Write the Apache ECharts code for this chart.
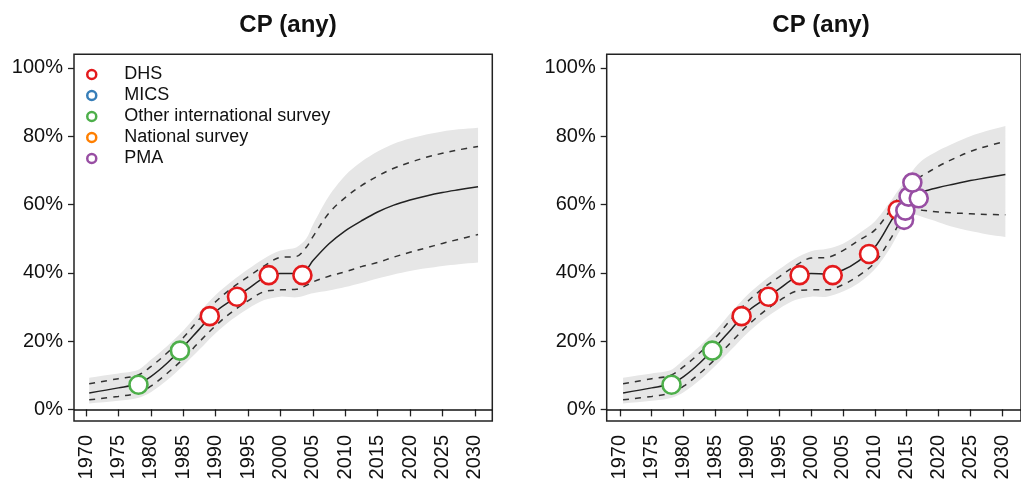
<!DOCTYPE html>
<html>
<head>
<meta charset="utf-8">
<script src="https://cdn.jsdelivr.net/npm/echarts@6/dist/echarts.min.js"></script>
<style>
  html, body { margin: 0; padding: 0; background: #fff; }
  #chart { width: 1021px; height: 484px; }
</style>
</head>
<body>
<div id="chart"></div>
<script>
// Axis ticks
const tickYears = [1970, 1975, 1980, 1985, 1990, 1995, 2000, 2005, 2010, 2015, 2020, 2025, 2030];
const tickPercents = [0, 20, 40, 60, 80, 100];

// Data sources (legend order)
const sourceNames = ['DHS', 'MICS', 'Other international survey', 'National survey', 'PMA'];
const sourceColors = ['#e41a1c', '#377eb8', '#4daf4a', '#ff7f00', '#984ea3'];

// Left panel: estimates (%)
const yearsLeft   = [1970.5, 1975, 1978, 1980, 1982.5, 1985, 1987.5, 1990, 1992.5, 1995, 1997.5, 2000, 2002.5, 2004, 2005, 2007.5, 2010, 2012.5, 2015, 2017.5, 2020, 2022.5, 2025, 2027.5, 2030.5];
const medianLeft  = [4.8, 6.3, 7.5, 9.6, 13.5, 18.3, 23.5, 28.6, 32.0, 35.3, 38.5, 39.8, 39.8, 41.0, 43.5, 48.5, 52.3, 55.2, 57.8, 59.8, 61.3, 62.5, 63.5, 64.3, 65.2];
const upper80Left = [7.5, 9.0, 10.0, 12.5, 16.5, 21.0, 26.5, 31.5, 35.5, 38.8, 42.0, 44.5, 44.8, 47.5, 50.5, 57.5, 62.0, 65.5, 68.3, 70.6, 72.3, 73.8, 75.0, 76.0, 77.0];
const lower80Left = [2.8, 3.8, 4.8, 6.8, 10.5, 14.8, 19.8, 24.5, 28.5, 31.8, 34.5, 35.0, 35.2, 36.3, 37.3, 39.0, 40.3, 41.8, 43.0, 44.6, 46.0, 47.3, 48.6, 49.8, 51.2];
const upper95Left = [9.3, 10.5, 11.5, 14.5, 18.5, 23.0, 28.5, 33.5, 37.5, 41.0, 44.2, 46.5, 47.5, 50.0, 54.0, 62.5, 68.5, 72.5, 75.5, 77.8, 79.3, 80.5, 81.4, 82.0, 82.5];
const lower95Left = [1.7, 2.5, 3.3, 5.0, 8.5, 12.8, 17.5, 22.3, 26.3, 29.5, 32.0, 33.0, 32.8, 33.5, 34.0, 34.8, 35.8, 37.0, 38.3, 39.5, 40.5, 41.3, 42.0, 42.5, 43.0];

// Left panel: observations
const dhsYearsLeft    = [1989.1, 1993.3, 1998.2, 2003.4];
const dhsValuesLeft   = [27.3, 33.0, 39.3, 39.3];
const otherYearsLeft  = [1978.1, 1984.5];
const otherValuesLeft = [7.2, 17.2];

// Right panel: estimates (%)
const yearsRight   = [1970.5, 1975, 1978, 1980, 1982.5, 1985, 1987.5, 1990, 1992.5, 1995, 1997.5, 2000, 2002.5, 2005, 2007.5, 2010, 2012.5, 2014, 2015, 2016, 2017.5, 2020, 2022.5, 2025, 2027.5, 2030.5];
const medianRight  = [4.8, 6.3, 7.5, 9.6, 13.5, 18.3, 23.5, 28.6, 32.0, 35.3, 38.5, 39.8, 39.6, 40.8, 43.5, 47.5, 55.0, 59.5, 61.8, 63.0, 63.8, 65.0, 66.0, 67.0, 67.8, 68.8];
const upper80Right = [7.5, 9.0, 10.0, 12.5, 16.5, 21.0, 26.5, 31.5, 35.5, 38.8, 42.0, 44.3, 44.5, 46.5, 49.5, 52.5, 58.5, 63.0, 65.5, 67.0, 68.5, 71.2, 73.5, 75.5, 77.0, 78.5];
const lower80Right = [2.8, 3.8, 4.8, 6.8, 10.5, 14.8, 19.8, 24.5, 28.5, 31.8, 34.5, 35.0, 35.0, 36.5, 39.2, 43.0, 50.0, 55.0, 57.5, 58.5, 58.3, 57.8, 57.5, 57.3, 57.1, 57.0];
const upper95Right = [9.3, 10.5, 11.5, 14.5, 18.5, 23.0, 28.5, 33.5, 37.5, 41.0, 44.2, 46.3, 47.0, 48.5, 51.5, 55.0, 61.0, 65.0, 67.0, 70.0, 73.0, 75.8, 78.0, 80.0, 81.5, 83.0];
const lower95Right = [1.7, 2.5, 3.3, 5.0, 8.5, 12.8, 17.5, 22.3, 26.3, 29.5, 32.0, 33.0, 33.0, 34.5, 37.0, 41.0, 47.5, 52.5, 55.0, 57.0, 56.3, 54.8, 53.3, 52.2, 51.3, 50.5];

// Right panel: observations
const dhsYearsRight    = [1989.1, 1993.3, 1998.2, 2003.4, 2009.1, 2013.6];
const dhsValuesRight   = [27.3, 33.0, 39.3, 39.3, 45.5, 58.4];
const otherYearsRight  = [1978.1, 1984.5];
const otherValuesRight = [7.2, 17.2];
const pmaYearsRight    = [2014.6, 2014.8, 2015.3, 2016.9, 2015.9];
const pmaValuesRight   = [55.5, 58.2, 62.3, 61.8, 66.4];
const emptyYears = [];
const emptyValues = [];

const FONT = '"Liberation Sans", Arial, Helvetica, sans-serif';
const pairs = (xs, ys) => xs.map((x, i) => [x, ys[i]]);

// Shaded 95% interval as one closed polygon in data coordinates.
// End vertices are repeated so the smoothed outline keeps square ends.
function bandSeries(g, years, lo, hi) {
  return {
    type: 'custom', xAxisIndex: g, yAxisIndex: g, silent: true, z: 1, clip: true,
    data: [[years[0], lo[0]]],
    renderItem: function (params, api) {
      const up = years.map((x, i) => api.coord([x, hi[i]]));
      const dn = years.map((x, i) => api.coord([x, lo[i]])).reverse();
      const n = up.length;
      const pts = [up[0]].concat(up, [up[n - 1]], [dn[0]], dn, [dn[n - 1]]);
      return {
        type: 'polygon',
        shape: { points: pts, smooth: 0.3 },
        style: { fill: '#e6e6e6', stroke: null }
      };
    }
  };
}

function curveSeries(g, years, vals, dashed) {
  return {
    type: 'line', xAxisIndex: g, yAxisIndex: g,
    data: pairs(years, vals), smooth: 0.35, symbol: 'none', silent: true, z: 3,
    lineStyle: dashed
      ? { color: '#333', width: 1.5, type: [6, 6] }
      : { color: '#222', width: 1.5 }
  };
}

function pointSeries(g, idx, years, vals) {
  return {
    name: sourceNames[idx], type: 'scatter', xAxisIndex: g, yAxisIndex: g,
    data: pairs(years, vals), symbol: 'circle', symbolSize: 18, z: 5,
    itemStyle: { color: '#fff', borderColor: sourceColors[idx], borderWidth: 2.6, opacity: 1 },
    silent: true
  };
}

function panelSeries(g, years, med, lo80, hi80, lo95, hi95) {
  const median = curveSeries(g, years, med, false);
  // horizontal reference line at 0%
  median.markLine = {
    silent: true, symbol: ['none', 'none'], label: { show: false },
    lineStyle: { color: '#111', type: 'solid', width: 1.5 },
    data: [{ yAxis: 0 }]
  };
  return [
    bandSeries(g, years, lo95, hi95),
    curveSeries(g, years, hi80, true),
    curveSeries(g, years, lo80, true),
    median
  ];
}

function xAxisFor(g, min, max) {
  return {
    gridIndex: g, type: 'value', min: min, max: max,
    axisLine: { show: false }, splitLine: { show: false },
    axisTick: { show: true, customValues: tickYears, length: 7, lineStyle: { color: '#222', width: 1.3 } },
    axisLabel: {
      customValues: tickYears, rotate: 90, margin: 14, fontSize: 20, color: '#111', fontFamily: FONT,
      formatter: v => String(v)
    }
  };
}

function yAxisFor(g) {
  return {
    gridIndex: g, type: 'value', min: -3.4, max: 104,
    axisLine: { show: false }, splitLine: { show: false },
    axisTick: { show: true, customValues: tickPercents, length: 6, lineStyle: { color: '#222', width: 1.3 } },
    axisLabel: { customValues: tickPercents, formatter: '{value}%', margin: 11, fontSize: 20, color: '#111', fontFamily: FONT }
  };
}

const chart = echarts.init(document.getElementById('chart'), null, { renderer: 'canvas' });

chart.setOption({
  animation: false,
  backgroundColor: '#fff',
  title: [
    { text: 'CP (any)', left: 283, top: 8, textAlign: 'center',
      textStyle: { fontSize: 24, fontWeight: 'bold', color: '#111', fontFamily: FONT } },
    { text: 'CP (any)', left: 816, top: 8, textAlign: 'center',
      textStyle: { fontSize: 24, fontWeight: 'bold', color: '#111', fontFamily: FONT } }
  ],
  legend: {
    orient: 'vertical', left: 86, top: 65.5, padding: 0,
    itemWidth: 9, itemHeight: 9, itemGap: 3,
    selectedMode: false,
    textStyle: { fontSize: 18, lineHeight: 18, color: '#111', fontFamily: FONT, padding: [0, 0, 0, 23] },
    data: sourceNames.map((n, i) => ({
      name: n, icon: 'circle',
      itemStyle: { color: '#fff', borderColor: sourceColors[i], borderWidth: 2.5 }
    }))
  },
  grid: [
    { left: 74, top: 54.2, width: 418.3, height: 366.8, show: true, borderColor: '#222', borderWidth: 1.5 },
    { left: 606.7, top: 54.2, width: 418.3, height: 366.8, show: true, borderColor: '#222', borderWidth: 1.5 }
  ],
  xAxis: [xAxisFor(0, 1968.15, 2032.7), xAxisFor(1, 1967.93, 2032.95)],
  yAxis: [yAxisFor(0), yAxisFor(1)],
  series: [
    ...panelSeries(0, yearsLeft, medianLeft, lower80Left, upper80Left, lower95Left, upper95Left),
    pointSeries(0, 0, dhsYearsLeft, dhsValuesLeft),
    pointSeries(0, 1, emptyYears, emptyValues),
    pointSeries(0, 2, otherYearsLeft, otherValuesLeft),
    pointSeries(0, 3, emptyYears, emptyValues),
    pointSeries(0, 4, emptyYears, emptyValues),
    ...panelSeries(1, yearsRight, medianRight, lower80Right, upper80Right, lower95Right, upper95Right),
    pointSeries(1, 0, dhsYearsRight, dhsValuesRight),
    pointSeries(1, 2, otherYearsRight, otherValuesRight),
    pointSeries(1, 4, pmaYearsRight, pmaValuesRight)
  ]
});
</script>
</body>
</html>
